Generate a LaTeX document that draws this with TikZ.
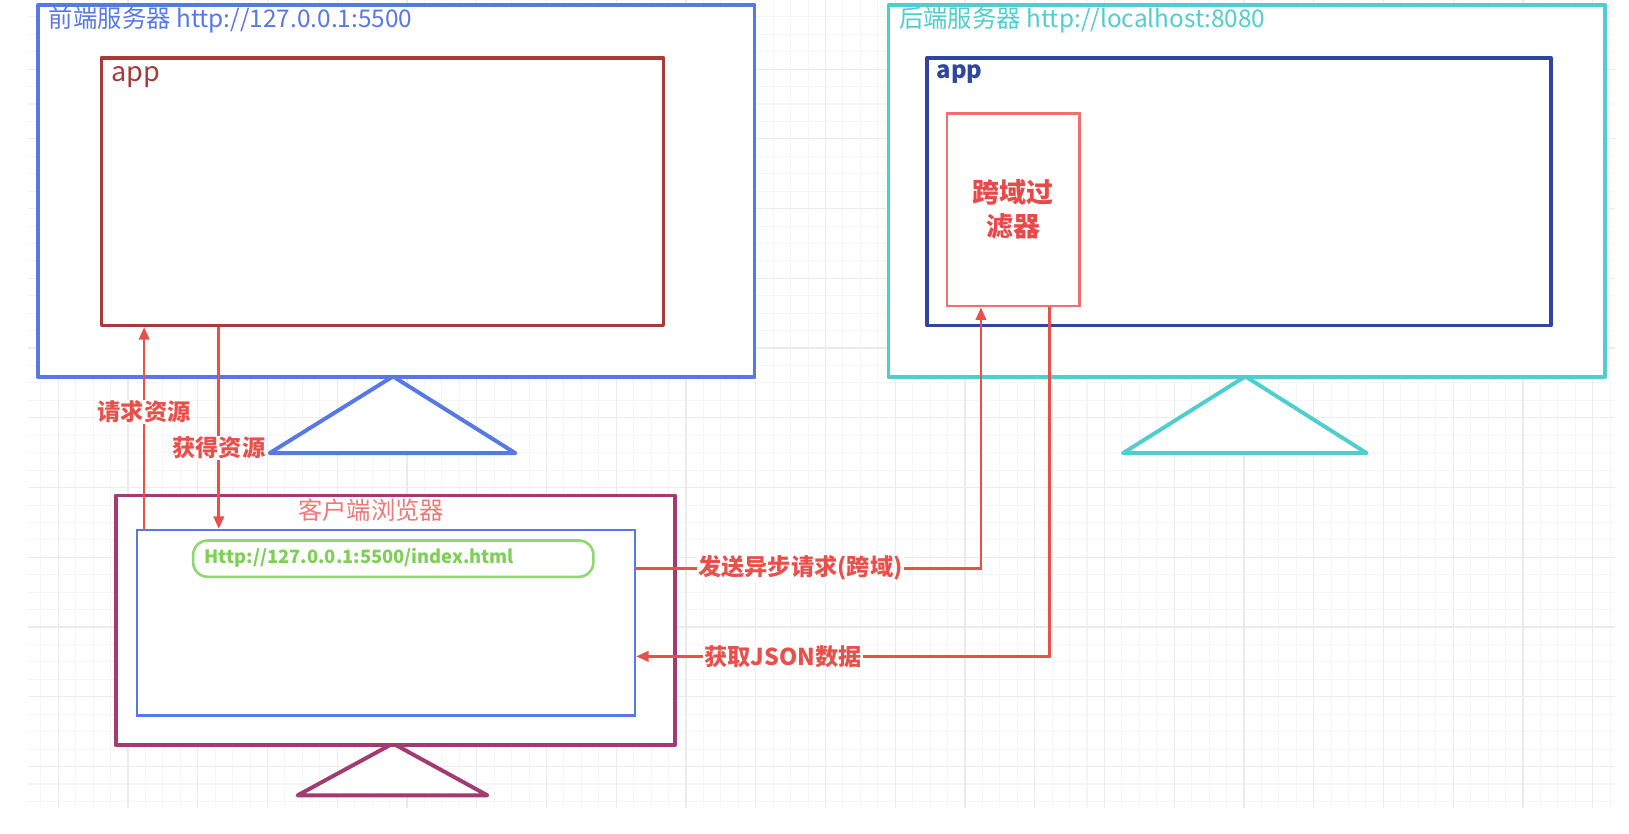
\documentclass[tikz,border=0pt]{standalone}
\usepackage{fontspec}
\setmainfont{Noto Sans CJK SC}
\usetikzlibrary{arrows.meta,calc}
\newcommand\myfs[1]{\fontsize{#1}{#1}\selectfont}
\definecolor{cblue}{HTML}{5878E6}
\definecolor{cdred}{HTML}{A83A3A}
\definecolor{ccyan}{HTML}{4ECECE}
\definecolor{cdblue}{HTML}{2F46A0}
\definecolor{cfilt}{HTML}{F07070}
\definecolor{cfilttxt}{HTML}{E84A4A}
\definecolor{cpurp}{HTML}{A23B72}
\definecolor{cpink}{HTML}{F07878}
\definecolor{cgreen}{HTML}{8ED873}
\definecolor{cgreentxt}{HTML}{7DCF55}
\definecolor{cred}{HTML}{E8514B}
\definecolor{gminor}{HTML}{F5F5F5}
\definecolor{gmajor}{HTML}{EBEBEB}
\tikzset{
  box/.style={draw, fill=white, line width=3.5pt, anchor=north west, inner sep=0pt, line join=round},
  thinbox/.style={draw, fill=white, line width=2.5pt, anchor=north west, inner sep=0pt},
  stand/.style={line width=3.8pt, line join=round, line cap=round, fill=white},
  arr/.style={draw=cred, line width=2.5pt, -{Triangle[length=12pt,width=10pt]}},
  lbl/.style={fill=white, inner sep=1pt, text=cred, font=\myfs{22.4pt}\bfseries},
  ttl/.style={anchor=west, inner sep=0pt, font=\myfs{23.5pt}},
}
\begin{document}
\begin{tikzpicture}[x=1pt,y=-1pt]
\useasboundingbox (0,0) rectangle (1571,804);
% background grid
\begin{scope}
\clip (27,0) rectangle (1557.5,779);
\foreach \k in {-2,...,90} {
  \pgfmathsetmacro\xx{56.2+16.815*\k}
  \draw[gminor, line width=1pt] (\xx,0) -- (\xx,779);
}
\foreach \k in {0,...,47} {
  \pgfmathsetmacro\yy{-0.6+16.815*\k}
  \draw[gminor, line width=1pt] (27,\yy) -- (1557.5,\yy);
}
\foreach \k in {-1,...,23} {
  \pgfmathsetmacro\xx{56.2+67.26*\k}
  \draw[gmajor, line width=1.2pt] (\xx,0) -- (\xx,779);
}
\foreach \k in {0,...,12} {
  \pgfmathsetmacro\yy{-0.6+67.26*\k}
  \draw[gmajor, line width=1.2pt] (27,\yy) -- (1557.5,\yy);
}
\end{scope}

% front server
\draw[stand, draw=cblue] (379,363) -- (497,437) -- (260,437) -- cycle;
\node[box, draw=cblue, minimum width=691pt, minimum height=359pt] (front) at (35,3) {};
\node[ttl, text=cblue] (fronttitle) at (47,19) {前端服务器 http://127.0.0.1:5500};
\node[box, draw=cdred, minimum width=542pt, minimum height=258pt] (fapp) at (96,54) {};
\node[ttl, text=cdred, font=\myfs{26pt}] (fapptxt) at (107,74) {app};

% back server
\draw[stand, draw=ccyan] (1201,363) -- (1318,437) -- (1083,437) -- cycle;
\node[box, draw=ccyan, minimum width=691pt, minimum height=359pt] (back) at (855,3) {};
\node[ttl, text=ccyan] (backtitle) at (867,19) {后端服务器 http://localhost:8080};
\node[box, draw=cdblue, minimum width=602pt, minimum height=258pt] (bapp) at (892,54) {};
\node[ttl, text=cdblue, font=\myfs{23pt}\bfseries] (bapptxt) at (903,71) {app};
\node[thinbox, draw=cfilt, minimum width=128pt, minimum height=186pt] (filter) at (912,108) {};
\node[text=cfilttxt, font=\myfs{26pt}\bfseries, align=center, inner sep=0pt] (filtertxt) at (filter.center) {跨域过\\[7pt]滤器};

% client browser
\draw[stand, draw=cpurp] (379,717) -- (470,767) -- (287,767) -- cycle;
\node[box, draw=cpurp, minimum width=539pt, minimum height=241pt] (client) at (110,476) {};
\node[inner sep=0pt, text=cpink, font=\myfs{23.5pt}] (clienttitle) at (358,492) {客户端浏览器};
\node[thinbox, draw=cblue, minimum width=480pt, minimum height=179pt] (inner) at (131,510) {};
\node[thinbox, draw=cgreen, rounded corners=14pt, minimum width=386pt, minimum height=35pt] (url) at (185,520) {};
\node[ttl, text=cgreentxt, font=\myfs{17.7pt}\bfseries] (urltxt) at (197,538) {Http://127.0.0.1:5500/index.html};

% connectors
\coordinate (reqx) at (139,0);
\coordinate (getx) at (211,0);
\coordinate (sendx) at (946,548);
\coordinate (jsonx) at (1012,633);

\draw[arr] (inner.north -| reqx) -- (fapp.south -| reqx)
  node[lbl, pos=0.58] {请求资源};
\draw[arr] (fapp.south -| getx) -- (inner.north -| getx)
  node[lbl, pos=0.6] {获得资源};
\draw[arr] (inner.east |- sendx) -- (sendx) -- (filter.south -| sendx);
\node[lbl] (sendlbl) at (772,548) {发送异步请求(跨域)};
\draw[arr] (filter.south -| jsonx) -- (jsonx) -- (inner.east |- jsonx);
\node[lbl] (jsonlbl) at (755,633) {获取JSON数据};
\end{tikzpicture}
\end{document}
